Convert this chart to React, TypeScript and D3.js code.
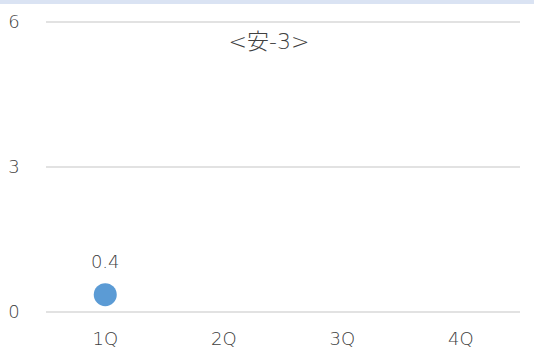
import React from "react";
import * as d3 from "d3";

const categories = ["1Q", "2Q", "3Q", "4Q"];
const values: (number | null)[] = [0.4, null, null, null];
const yTicks = [0, 3, 6];
const title = "<安-3>";

const W = 534, H = 352;
const FONT = "'Century Gothic', 'DejaVu Sans', 'Noto Sans CJK JP', sans-serif";

export default function App() {
  const x = d3.scaleBand<string>().domain(categories).range([46, 520]);
  const y = d3.scaleLinear().domain([0, 6]).range([312, 22]);
  const txt = "#404040";
  const fw = 300;
  const fs = 18;
  return (
    <svg width={W} height={H} style={{ position: "absolute", left: 0, top: 0, background: "#fff" }}>
      <rect x={0} y={0} width={W} height={4} fill="#dae3f3" />
      {yTicks.map((t) => (
        <g key={t}>
          <line x1={46} x2={520} y1={y(t)} y2={y(t)} stroke="#d9d9d9" strokeWidth={1.5} />
          <text x={14} y={y(t)} dy="0.35em" textAnchor="middle" fontSize={fs} fontWeight={fw} fill={txt} fontFamily={FONT}>{t}</text>
        </g>
      ))}
      {categories.map((c) => (
        <text key={c} x={(x(c) as number) + x.bandwidth() / 2} y={339} dy="0.35em" textAnchor="middle" fontSize={fs} fontWeight={fw} fill={txt} fontFamily={FONT}>{c}</text>
      ))}
      {values.map((v, i) =>
        v == null ? null : (
          <g key={i}>
            <circle cx={(x(categories[i]) as number) + x.bandwidth() / 2} cy={y(v) + 2} r={11.5} fill="#5b9bd5" />
            <text x={(x(categories[i]) as number) + x.bandwidth() / 2} y={262} dy="0.35em" textAnchor="middle" fontSize={fs} fontWeight={fw} fill={txt} fontFamily={FONT}>{v}</text>
          </g>
        )
      )}
      <text x={269} y={41} dy="0.35em" textAnchor="middle" fontSize={22} fontWeight={fw} fill={txt} fontFamily={FONT}>{title}</text>
    </svg>
  );
}
